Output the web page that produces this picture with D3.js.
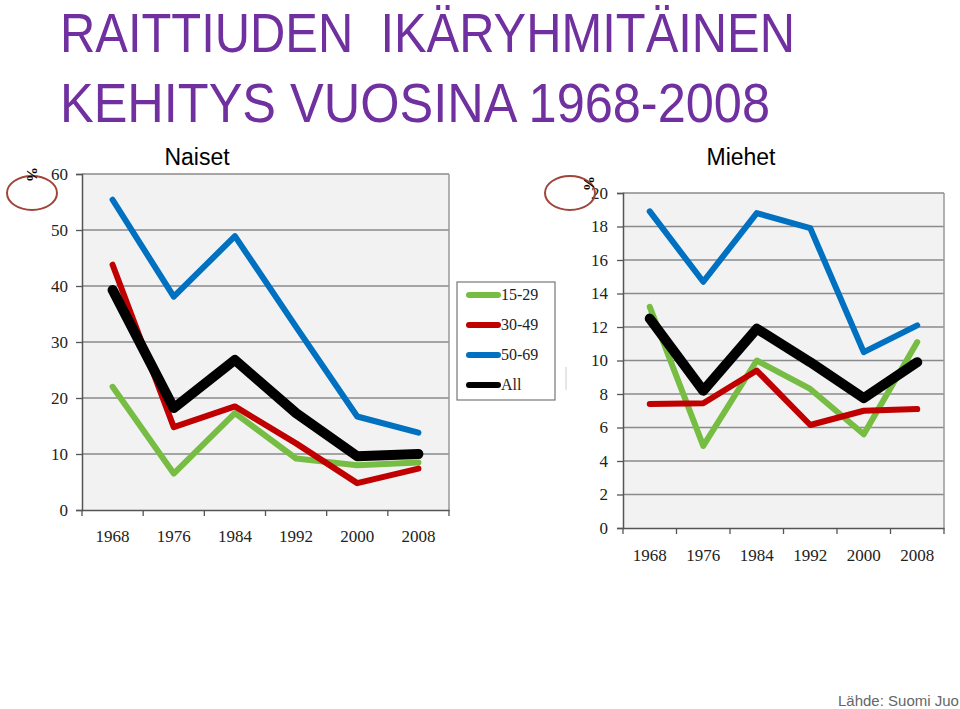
<!DOCTYPE html>
<html><head><meta charset="utf-8">
<script src="https://cdn.jsdelivr.net/npm/d3@7"></script>
<style>
body{margin:0;background:#fff;}
svg{display:block;}
</style></head>
<body>
<svg id="c" width="960" height="709"></svg>
<script>
const years = ["1968","1976","1984","1992","2000","2008"];
const seriesNames = ["15-29","30-49","50-69","All"];
const seriesColors = ["#77bd43","#c00000","#0070c0","#000000"];
const naiset15_29 = [22.0, 6.5, 17.3, 9.2, 8.0, 8.5];
const naiset30_49 = [43.8, 14.8, 18.5, 11.9, 4.8, 7.4];
const naiset50_69 = [55.4, 38.1, 48.9, 32.7, 16.7, 13.8];
const naisetAll   = [39.3, 18.2, 26.8, 17.3, 9.6, 10.0];
const miehet15_29 = [13.2, 4.9, 10.0, 8.3, 5.6, 11.1];
const miehet30_49 = [7.4, 7.45, 9.4, 6.15, 7.0, 7.1];
const miehet50_69 = [18.9, 14.7, 18.8, 17.9, 10.5, 12.1];
const miehetAll   = [12.5, 8.2, 11.9, 9.9, 7.75, 9.9];
const naisetTicks = [0,10,20,30,40,50,60];
const miehetTicks = [0,2,4,6,8,10,12,14,16,18,20];

const svg = d3.select("#c");

// Title
const title = svg.append("g").attr("fill","#7030a0")
  .style("font-family","'Liberation Sans', Arial, sans-serif").style("font-size","55px");
title.append("text").attr("x",60).attr("y",52).style("white-space","pre")
  .attr("textLength",735).attr("lengthAdjust","spacingAndGlyphs").text("RAITTIUDEN  IKÄRYHMITÄINEN");
title.append("text").attr("x",60).attr("y",122)
  .attr("textLength",710).attr("lengthAdjust","spacingAndGlyphs").text("KEHITYS VUOSINA 1968-2008");

function drawChart(cfg){
  const g = svg.append("g");
  const x = d3.scaleBand().domain(years).range([cfg.x0,cfg.x1]);
  const y = d3.scaleLinear().domain([0,cfg.max]).range([cfg.y0,cfg.y1]);
  g.append("rect").attr("x",cfg.x0).attr("y",cfg.y1).attr("width",cfg.x1-cfg.x0).attr("height",cfg.y0-cfg.y1).attr("fill","#f2f2f2");
  // gridlines
  g.append("g").selectAll("line").data(cfg.ticks.slice(1)).join("line")
    .attr("x1",cfg.x0).attr("x2",cfg.x1).attr("y1",d=>y(d)).attr("y2",d=>y(d))
    .attr("stroke","#8a8a8a").attr("stroke-width",1.3);
  g.append("line").attr("x1",cfg.x1).attr("x2",cfg.x1).attr("y1",cfg.y1).attr("y2",cfg.y0).attr("stroke","#999").attr("stroke-width",1.5);
  // y axis
  const ya = g.append("g").attr("transform",`translate(${cfg.x0},0)`)
    .call(d3.axisLeft(y).tickValues(cfg.ticks).tickSize(6).tickPadding(cfg.ypad));
  ya.select(".domain").attr("stroke","#555").attr("stroke-width",1.5);
  ya.selectAll(".tick line").attr("stroke","#555").attr("stroke-width",1.3);
  ya.selectAll("text").style("font-family","'Liberation Serif','Times New Roman',serif").style("font-size",cfg.fs+"px").attr("fill","#222");
  // x axis
  const xa = g.append("g").attr("transform",`translate(0,${cfg.y0})`)
    .call(d3.axisBottom(x).tickSize(0).tickPadding(cfg.xpad));
  xa.select(".domain").attr("stroke","#555").attr("stroke-width",1.5);
  xa.selectAll("text").style("font-family","'Liberation Serif','Times New Roman',serif").style("font-size",cfg.fs+"px").attr("fill","#222");
  const bounds = years.map(d=>x(d)).concat([cfg.x1]);
  g.append("g").selectAll("line").data(bounds).join("line")
    .attr("x1",d=>d).attr("x2",d=>d).attr("y1",cfg.y0).attr("y2",cfg.y0+6).attr("stroke","#555").attr("stroke-width",1.3);
  // lines
  const line = d3.line().x((d,i)=>x(years[i])+x.bandwidth()/2).y(d=>y(d));
  cfg.data.forEach((s,i)=>{
    g.append("path").datum(s).attr("d",line).attr("fill","none")
      .attr("stroke",seriesColors[i]).attr("stroke-width",i===3?cfg.wAll:cfg.w)
      .attr("stroke-linecap","round").attr("stroke-linejoin","round");
  });
  // title
  svg.append("text").attr("x",cfg.tx).attr("y",165).attr("text-anchor","middle")
    .style("font-family","'Liberation Sans',Arial,sans-serif").style("font-size","23px").text(cfg.title);
  // % and ellipse
  svg.append("ellipse").attr("cx",cfg.ex).attr("cy",193).attr("rx",25).attr("ry",17)
    .attr("fill","none").attr("stroke","#a0453a").attr("stroke-width",2);
  svg.append("text").attr("transform",`translate(${cfg.px},${cfg.py}) rotate(90)`)
    .style("font-family","'Liberation Serif',serif").style("font-size","15px").style("font-weight","bold").text("%");
}

drawChart({x0:82,x1:449,y0:510,y1:174,max:60,ticks:naisetTicks,ypad:8,xpad:20,fs:17,
  data:[naiset15_29,naiset30_49,naiset50_69,naisetAll],w:6,wAll:10,
  title:"Naiset",tx:197,ex:32,px:27,py:167});
drawChart({x0:623,x1:944,y0:528,y1:193,max:20,ticks:miehetTicks,ypad:9,xpad:21,fs:17,
  data:[miehet15_29,miehet30_49,miehet50_69,miehetAll],w:6,wAll:10,
  title:"Miehet",tx:741,ex:570,px:584,py:176});

// legend
const lg = svg.append("g");
lg.append("rect").attr("x",457).attr("y",282).attr("width",98).attr("height",118)
  .attr("fill","#fff").attr("stroke","#777").attr("stroke-width",1.2);
seriesNames.forEach((n,i)=>{
  const yy = 295 + i*30;
  lg.append("line").attr("x1",469).attr("x2",498).attr("y1",yy).attr("y2",yy)
    .attr("stroke",seriesColors[i]).attr("stroke-width",6).attr("stroke-linecap","round");
  lg.append("text").attr("x",501).attr("y",yy+5).style("font-family","'Liberation Serif',serif")
    .style("font-size","16px").attr("fill","#222").text(n);
});
svg.append("line").attr("x1",566).attr("x2",566).attr("y1",367).attr("y2",390).attr("stroke","#ccc").attr("stroke-width",1);

// source
svg.append("text").attr("x",838).attr("y",706).style("font-family","'Liberation Sans',Arial,sans-serif")
  .style("font-size","15px").attr("fill","#666").text("Lähde: Suomi Juo");
</script>
</body></html>
